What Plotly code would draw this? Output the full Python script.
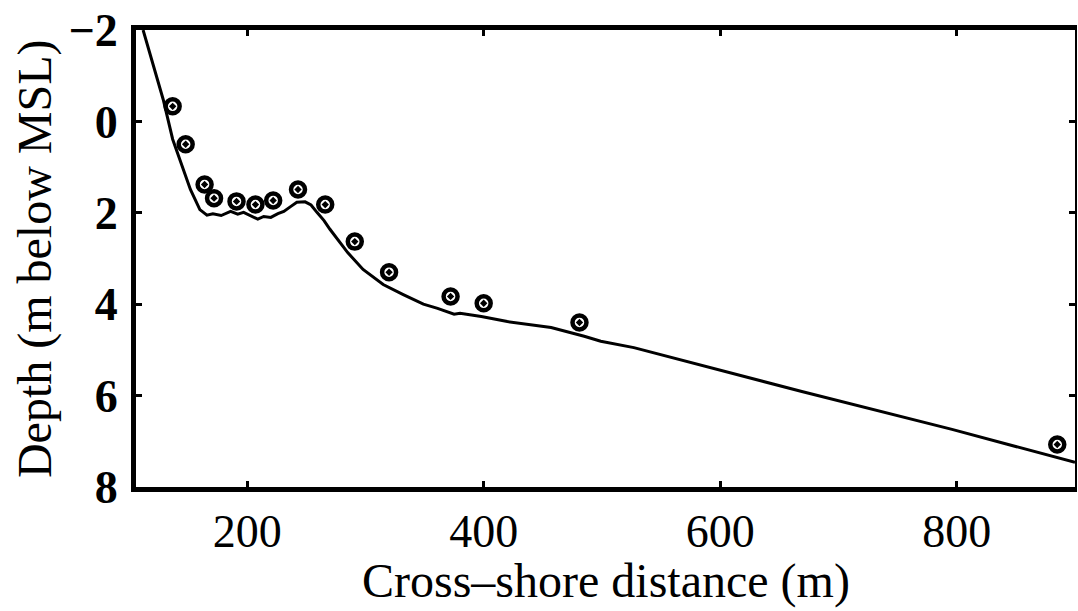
import plotly.graph_objects as go

# Measured (circles)
obs_x = [137, 148, 164, 172, 191, 207, 222, 243, 266, 291, 320, 372, 400, 481, 885]
obs_depth = [-0.33, 0.50, 1.38, 1.68, 1.75, 1.82, 1.73, 1.49, 1.82, 2.63, 3.30, 3.83, 3.98, 4.40, 7.07]

# Profile (line)
prof_x = [112, 129, 137, 145, 152, 160, 166, 171, 178, 186, 192, 197, 203, 209, 214, 220,
          226, 231, 237, 242, 249, 254, 259, 265, 270, 278, 285, 298, 315, 332, 349, 361,
          375, 380, 398, 420, 437, 457, 485, 499, 527, 584, 669, 796, 900]
prof_depth = [-2.0, -0.48, 0.39, 0.98, 1.49, 1.93, 2.05, 2.02, 2.06, 1.97, 2.03, 1.99, 2.06,
              2.14, 2.08, 2.10, 2.02, 1.97, 1.86, 1.77, 1.76, 1.83, 1.99, 2.17, 2.36, 2.62,
              2.87, 3.24, 3.57, 3.79, 4.00, 4.09, 4.22, 4.20, 4.27, 4.38, 4.44, 4.51, 4.70,
              4.81, 4.95, 5.34, 5.91, 6.74, 7.46]

x_ticks = [200, 400, 600, 800]
x_ticktext = ["200", "400", "600", "800"]
y_ticks = [-2, 0, 2, 4, 6, 8]
y_ticktext = ["\u22122", "0", "2", "4", "6", "8"]

FONT = "Liberation Serif"

fig = go.Figure()
fig.add_trace(go.Scatter(x=prof_x, y=prof_depth, mode="lines",
                         line=dict(color="black", width=3), showlegend=False))
fig.add_trace(go.Scatter(x=obs_x, y=obs_depth, mode="markers",
                         marker=dict(symbol="circle-open-dot", size=14, color="black",
                                     line=dict(color="black", width=4.5)),
                         showlegend=False))
# invisible trace for right axis
fig.add_trace(go.Scatter(x=[None], y=[None], yaxis="y2", showlegend=False))

fig.update_layout(
    width=1078, height=611,
    margin=dict(l=136, r=3, t=30, b=124),
    paper_bgcolor="white", plot_bgcolor="white",
    font=dict(family=FONT, color="black"),
    xaxis=dict(range=[106, 900], tickvals=x_ticks, ticktext=x_ticktext,
               ticks="inside", ticklen=6, tickwidth=3, tickcolor="black",
               showline=True, linewidth=5, linecolor="black", mirror="ticks",
               showgrid=False, zeroline=False,
               tickfont=dict(family=FONT, size=46, color="black"),
               ticklabelstandoff=0),
    yaxis=dict(range=[8, -2], tickvals=y_ticks, ticktext=y_ticktext,
               ticks="inside", ticklen=6, tickwidth=3, tickcolor="black",
               showline=True, linewidth=5, linecolor="black", mirror=False,
               showgrid=False, zeroline=False,
               tickfont=dict(family=FONT, size=46, color="black", weight="bold"),
               ticklabelstandoff=4),
    yaxis2=dict(range=[8, -2], overlaying="y", side="right", tickvals=y_ticks,
                ticks="inside", ticklen=6, tickwidth=3, tickcolor="black",
                showline=True, linewidth=2, linecolor="black",
                showticklabels=False, showgrid=False, zeroline=False),
    annotations=[
        dict(text="Cross\u2013shore distance (m)", xref="paper", yref="paper",
             x=0.5, y=-0.205, xanchor="center", yanchor="middle", showarrow=False,
             font=dict(family=FONT, size=48, color="black")),
        dict(text="Depth (m below MSL)", xref="paper", yref="paper",
             x=-0.108, y=0.5, xanchor="center", yanchor="middle", showarrow=False,
             textangle=-90, font=dict(family=FONT, size=48, color="black")),
    ],
)

fig.write_html("out.html")
